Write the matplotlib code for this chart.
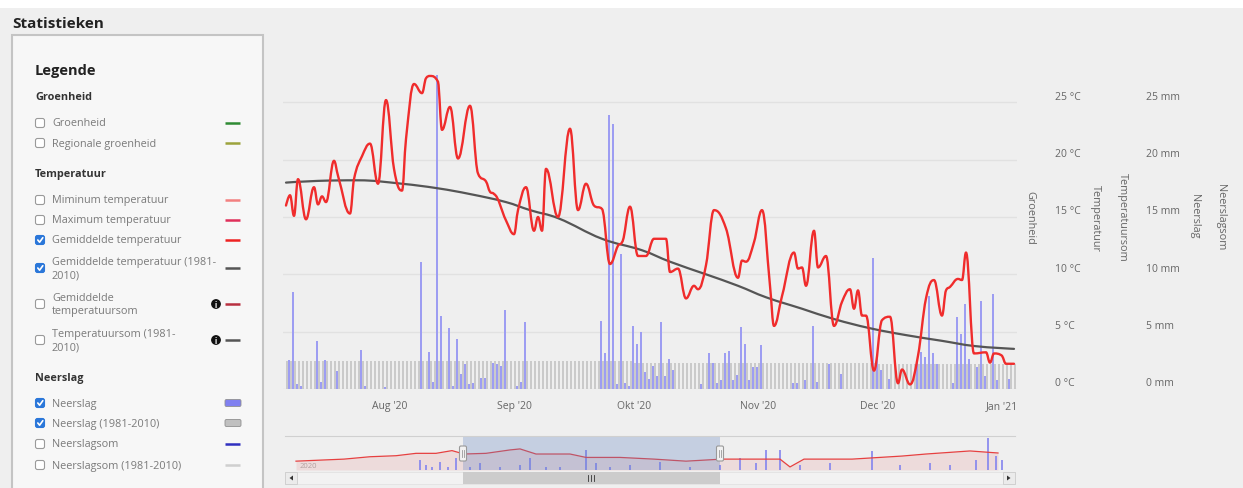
import numpy as np
import pandas as pd
import matplotlib
matplotlib.use('Agg')
from matplotlib import pyplot as plt
from matplotlib.patches import Rectangle, FancyBboxPatch, Circle, PathPatch
from matplotlib.path import Path
import matplotlib.transforms as mtransforms

W, H = 1243, 489
BG = '#efefef'
plt.rcParams['font.family'] = ['Open Sans', 'DejaVu Sans']

base = pd.Timestamp('2020-08-01')

# - data (days counted from 1 Aug 2020) ---------------------------------------
temp_day = [-26, -25, -24, -23, -21, -19, -18, -17, -16, -14, -13, -10, -9, -7, -5, -3, -1,
            1, 3, 4, 6, 8, 9, 10, 12, 13, 15, 17, 20, 22, 24, 25, 26, 29, 31, 32, 34, 36, 37, 38, 39, 42,
            45, 47, 49, 51, 53, 55, 57, 58, 60, 62, 64, 66, 69, 70, 72, 74, 76, 77, 79, 81,
            84, 87, 88, 89, 91, 93, 95, 96, 98, 101, 102, 103, 104, 106, 107, 109, 111, 113, 115, 116, 117, 118, 119,
            121, 123, 125, 127, 128, 130, 132, 134, 136, 138, 139, 140, 142, 143, 144, 146, 149, 150, 151, 153, 154, 156]
temp_mean = [16.0, 16.9, 15.1, 18.3, 14.8, 17.6, 16.1, 16.8, 16.3, 19.9, 18.6, 15.3, 18.3, 20.3, 21.4, 17.9, 25.2,
             19.2, 17.3, 21.8, 26.6, 25.8, 27.1, 27.3, 26.8, 22.6, 24.6, 20.1, 24.7, 18.8, 18.1, 17.2, 17.0, 14.7, 13.5, 15.6, 17.6, 13.8, 15.0, 13.8, 19.2, 15.0,
             22.7, 15.6, 17.9, 16.0, 15.7, 10.9, 12.5, 12.8, 15.9, 11.6, 11.6, 13.1, 13.1, 10.2, 10.5, 7.9, 9.0, 8.7, 10.8, 15.6,
             14.0, 9.7, 11.2, 11.1, 12.8, 15.6, 9.0, 5.5, 8.1, 11.9, 10.5, 10.6, 9.0, 13.8, 10.6, 11.6, 5.5, 7.6, 8.7, 7.0, 8.6, 6.4, 6.4,
             1.6, 6.0, 6.3, 0.5, 1.7, 0.4, 2.9, 7.9, 9.5, 6.4, 8.6, 8.9, 9.6, 9.5, 11.9, 3.1, 3.2, 2.3, 3.1, 2.9, 2.2, 2.2]

normal_day = [-26, -18, -8, 3, 12, 20, 29, 35, 42, 53, 63, 70, 79, 87, 94, 103, 111, 120, 129, 138, 146, 156]
normal_temp = [18.0, 18.15, 18.2, 17.9, 17.5, 17.0, 16.3, 15.6, 14.9, 13.1, 12.1, 11.1, 10.0, 9.0, 8.0, 7.0,
               6.1, 5.3, 4.7, 4.2, 3.75, 3.5]

rain_day = [-25, -24, -23, -22, -18, -17, -16, -13, -7, -6, -1, 8, 10, 11, 12, 13, 15, 16, 17, 18,
            19, 20, 21, 23, 24, 26, 27, 28, 29, 32, 33, 34, 53, 54, 55, 56, 57, 58, 59, 60,
            61, 62, 63, 64, 65, 66, 67, 68, 69, 70, 71, 78, 80, 81, 82, 83, 84, 85, 86, 87,
            88, 89, 90, 91, 92, 93, 101, 102, 104, 106, 107, 110, 113, 121, 122, 123, 125, 132, 133, 134,
            135, 136, 137, 141, 142, 143, 144, 145, 147, 148, 149, 151, 152, 155]
rain_mm = [2.5, 8.5, 0.4, 0.3, 4.2, 0.6, 2.5, 1.6, 3.4, 0.3, 0.2, 11.1, 3.2, 0.6, 27.4, 6.4, 5.3, 0.3, 4.4, 1.3,
           2.2, 0.4, 0.5, 1.0, 1.0, 2.3, 2.2, 2.0, 6.9, 0.3, 0.6, 5.8, 5.9, 3.1, 23.9, 23.1, 0.4, 11.8, 0.5, 0.3,
           5.5, 3.9, 5.0, 1.5, 0.9, 2.0, 1.1, 5.8, 1.1, 2.6, 1.7, 0.4, 3.1, 2.3, 0.5, 0.8, 3.1, 3.3, 0.8, 1.2,
           5.4, 3.9, 0.8, 1.9, 1.9, 3.8, 0.5, 0.5, 0.8, 5.5, 0.6, 2.2, 1.3, 11.4, 2.9, 1.7, 0.9, 2.3, 3.2, 2.8,
           8.1, 3.1, 2.2, 0.5, 6.3, 4.8, 7.4, 2.6, 1.9, 7.7, 1.1, 8.3, 0.8, 0.9]

# normal daily precipitation (1981-2010) per month
normal_rain_month = ['2020-07', '2020-08', '2020-09', '2020-10', '2020-11', '2020-12', '2021-01']
normal_rain_mm = [2.4, 2.4, 2.4, 2.3, 2.3, 2.2, 2.2]
first_day, last_day = -26, 156

# navigator overview (days from 1 Jan 2020, relative level 0-10)
nav_day = [3, 15, 27, 40, 53, 63, 73, 81, 87, 98, 110, 115, 123, 140, 148, 165, 182, 198,
           216, 245, 250, 257, 281, 306, 318, 340, 354]
nav_level = [2.6, 2.9, 3.2, 3.9, 4.2, 4.9, 4.9, 5.7, 4.7, 4.9, 5.9, 6.2, 4.7, 4.7, 3.7, 3.7, 3.2, 2.6,
             3.2, 3.2, 0.9, 3.2, 3.2, 4.1, 4.7, 5.6, 5.0]
nav_rain_day = [65, 68, 71, 75, 79, 83, 90, 95, 105, 115, 120, 128, 135, 148, 153, 160, 170, 185,
                200, 215, 225, 233, 238, 245, 255, 270, 291, 305, 320, 330, 343, 349, 353, 356]
nav_rain = [3.0, 1.5, 1.0, 2.5, 1.0, 3.5, 1.0, 2.0, 1.0, 1.5, 3.5, 1.0, 1.0, 6.0, 2.0, 1.0, 1.5, 2.5,
            1.0, 1.5, 3.5, 2.0, 6.0, 6.0, 1.5, 2.0, 5.5, 1.5, 2.0, 1.5, 3.0, 9.4, 4.0, 3.0]

# legend content
leg_headers = ['Groenheid', 'Temperatuur', 'Neerslag']
leg_labels = ['Groenheid', 'Regionale groenheid', 'Miminum temperatuur', 'Maximum temperatuur',
              'Gemiddelde temperatuur', 'Gemiddelde temperatuur (1981-\n2010)', 'Gemiddelde\ntemperatuursom',
              'Temperatuursom (1981-\n2010)', 'Neerslag', 'Neerslag (1981-2010)', 'Neerslagsom',
              'Neerslagsom (1981-2010)']
leg_checked = [0, 0, 0, 0, 1, 1, 0, 0, 1, 1, 0, 0]
leg_colors = ['#2e8b34', '#9ca33c', '#f38080', '#e0305a', '#ee2222', '#555555', '#b83040', '#555555',
              '#8080f0', '#c0c0c0', '#3030c0', '#cfcfcf']
leg_kind = ['line'] * 8 + ['box', 'box', 'line', 'line']
leg_info = [0, 0, 0, 0, 0, 0, 1, 1, 0, 0, 0, 0]


def spline_path(xs, ys, smoothing=1.5):
    # bezier curve through the points, the way a "spline" series is drawn
    xs = np.asarray(xs, float)
    ys = np.asarray(ys, float)
    n = len(xs)
    den = smoothing + 1
    lc = np.column_stack([xs, ys])
    rc = lc.copy()
    for i in range(1, n - 1):
        x, y = xs[i], ys[i]
        px_, py_, nx_, ny_ = xs[i - 1], ys[i - 1], xs[i + 1], ys[i + 1]
        lx, ly = (smoothing * x + px_) / den, (smoothing * y + py_) / den
        rx, ry = (smoothing * x + nx_) / den, (smoothing * y + ny_) / den
        if rx != lx:
            corr = (ry - ly) * (rx - x) / (rx - lx) + y - ry
            ly += corr
            ry += corr
        if ly > py_ and ly > y:
            ly = max(py_, y)
            ry = 2 * y - ly
        elif ly < py_ and ly < y:
            ly = min(py_, y)
            ry = 2 * y - ly
        if ry > ny_ and ry > y:
            ry = max(ny_, y)
            ly = 2 * y - ry
        elif ry < ny_ and ry < y:
            ry = min(ny_, y)
            ly = 2 * y - ry
        lc[i] = lx, ly
        rc[i] = rx, ry
    verts = [(xs[0], ys[0])]
    codes = [Path.MOVETO]
    for i in range(1, n):
        verts += [tuple(rc[i - 1]), tuple(lc[i]), (xs[i], ys[i])]
        codes += [Path.CURVE4] * 3
    return Path(verts, codes)


# - figure --------------------------------------------------------------------
fig = plt.figure(figsize=(W / 100, H / 100), dpi=100)
fig.patch.set_facecolor(BG)


def px_axes(x0, y0, x1, y1, z):
    a = fig.add_axes([x0 / W, 1 - y1 / H, (x1 - x0) / W, (y1 - y0) / H], zorder=z)
    a.patch.set_alpha(0)
    return a


ui = px_axes(0, 0, W, H, 0)
ui.set_xlim(0, W)
ui.set_ylim(H, 0)
ui.axis('off')

ui.add_patch(Rectangle((0, 0), W, 9, color='white', lw=0))
ui.text(12, 24, 'Statistieken', fontsize=11, fontweight='bold', color='#222222', va='center')

# legend panel
ui.add_patch(Rectangle((12, 36), 251, 470, facecolor='#f7f7f7', edgecolor='#c4c4c4', lw=1.5))
ui.text(35, 71, 'Legende', fontsize=10.5, fontweight='bold', color='#222222', va='center')
for hdr, y in zip(leg_headers, [97, 175, 379]):
    ui.text(35, y, hdr, fontsize=7.8, fontweight='bold', color='#333333', va='center')

leg_y = [124, 144, 201, 221, 241, 269, 305, 341, 404, 424, 445, 466]
for i, lab in enumerate(leg_labels):
    y = leg_y[i]
    if leg_checked[i]:
        ui.add_patch(FancyBboxPatch((35.5, y - 4.5), 9, 9, boxstyle='round,pad=0,rounding_size=2',
                                    facecolor='#2b77d9', edgecolor='#2b77d9', lw=0.8))
        ui.plot([37.8, 39.6, 42.8], [y, y + 2.2, y - 2.3], color='white', lw=1.2, solid_capstyle='round')
    else:
        ui.add_patch(FancyBboxPatch((35.5, y - 4.5), 9, 9, boxstyle='round,pad=0,rounding_size=2',
                                    facecolor='white', edgecolor='#9a9a9a', lw=0.8))
    ui.text(52, y, lab, fontsize=7.8, color='#7a7a7a', va='center', linespacing=1.35)
    if leg_kind[i] == 'line':
        ui.plot([225, 240], [y, y], color=leg_colors[i], lw=1.8, solid_capstyle='butt')
    else:
        ui.add_patch(FancyBboxPatch((225, y - 3.5), 16, 7, boxstyle='round,pad=0,rounding_size=1.5',
                                    facecolor=leg_colors[i], edgecolor='#909090', lw=0.6))
    if leg_info[i]:
        ui.add_patch(Circle((216, y), 4.2, color='#111111'))
        ui.text(216, y + 0.3, 'i', color='white', fontsize=5.5, fontweight='bold', ha='center', va='center')

# - main chart ----------------------------------------------------------------
ax = px_axes(283, 46, 1017, 390, 2)
ax.set_xlim(first_day - 0.75, last_day + 0.75)
ax.set_ylim(0, 30)
for s in ax.spines.values():
    s.set_visible(False)
ax.set_yticks(range(0, 30, 5))
ax.yaxis.grid(True, color='#e1e1e1', lw=1)
ax.set_axisbelow(True)
ax.tick_params(axis='y', length=0, labelleft=False)

months = pd.date_range('2020-08-01', '2021-01-01', freq='MS')
nl = {8: 'Aug', 9: 'Sep', 10: 'Okt', 11: 'Nov', 12: 'Dec', 1: 'Jan'}
ax.set_xticks((months - base).days)
ax.set_xticklabels([f"{nl[m.month]} '{m.strftime('%y')}" for m in months], fontsize=7.5, color='#666666')
ax.tick_params(axis='x', length=0, pad=8)

all_days = np.arange(first_day, last_day + 1)
dates = base + pd.to_timedelta(all_days, unit='D')
lookup = dict(zip(normal_rain_month, normal_rain_mm))
norm_vals = [lookup[k] for k in dates.strftime('%Y-%m')]
ax.bar(all_days + 0.22, norm_vals, width=0.45, color='#cacaca', lw=0, zorder=2)
ax.bar(np.array(rain_day) - 0.22, rain_mm, width=0.45, color='#9d9df2', lw=0, zorder=3)
ax.add_patch(PathPatch(spline_path(normal_day, normal_temp), fill=False, edgecolor='#555555',
                       lw=1.6, zorder=4, capstyle='round'))
ax.add_patch(PathPatch(spline_path(temp_day, temp_mean), fill=False, edgecolor='#f02c2c',
                       lw=1.7, zorder=5, joinstyle='round', capstyle='round'))

trans = mtransforms.blended_transform_factory(fig.transFigure, ax.transData)
for v in range(0, 30, 5):
    ax.text(1055 / W, v + 0.55, f'{v} °C', transform=trans, fontsize=7.5, color='#666666', va='center')
    ax.text(1146 / W, v + 0.55, f'{v} mm', transform=trans, fontsize=7.5, color='#666666', va='center')

for name, x, y in [('Groenheid', 1030, 218), ('Temperatuur', 1095, 218), ('Temperatuursom', 1122, 217),
                   ('Neerslag', 1195, 216), ('Neerslagsom', 1221, 217)]:
    ui.text(x, y, name, rotation=270, fontsize=7.8, color='#666666', ha='center', va='center')

# - navigator -----------------------------------------------------------------
nav = px_axes(285, 437, 1015, 471, 2)
nav.set_xlim(-2.5, 362.5)
nav.set_ylim(0, 10)
nav.axis('off')
nav.fill_between(nav_day, nav_level, 0, color='#e65050', alpha=0.12, lw=0)
nav.bar(nav_rain_day, nav_rain, width=1.0, color='#8585ee', lw=0, alpha=0.85)
nav.plot(nav_day, nav_level, color='#e64040', lw=0.9)
ui.text(300, 466, '2020', fontsize=5.5, color='#aaaaaa', va='center')

ux = px_axes(0, 0, W, H, 4)
ux.set_xlim(0, W)
ux.set_ylim(H, 0)
ux.axis('off')
ux.plot([285, 1015], [437, 437], color='#d0d0d0', lw=0.8)
ux.add_patch(Rectangle((463, 437), 257, 34, facecolor=(0.4, 0.52, 0.76, 0.3), lw=0))
for hx in (463, 720):
    ux.add_patch(FancyBboxPatch((hx - 3.5, 447), 7, 15, boxstyle='round,pad=0,rounding_size=1.5',
                                facecolor='#f2f2f2', edgecolor='#999999', lw=0.8))
    ux.plot([hx - 1, hx - 1], [451, 458], color='#999999', lw=0.6)
    ux.plot([hx + 1, hx + 1], [451, 458], color='#999999', lw=0.6)

# scrollbar
ux.add_patch(Rectangle((285, 473), 730, 12, facecolor='#f2f2f2', edgecolor='#e2e2e2', lw=0.6))
ux.add_patch(Rectangle((463, 473), 257, 12, facecolor='#cccccc', lw=0))
for gx in (588, 591, 594):
    ux.plot([gx, gx], [476, 482], color='#333333', lw=0.6)
for bx, tri in [(285, [293, 289.5, 293]), (1003, [1007, 1010.5, 1007])]:
    ux.add_patch(Rectangle((bx, 473), 12, 12, facecolor='#ebebeb', edgecolor='#cccccc', lw=0.6))
    ux.fill(tri, [476.5, 479, 481.5], color='#333333', lw=0)

fig.savefig('out.png', dpi=100, facecolor=fig.get_facecolor())
